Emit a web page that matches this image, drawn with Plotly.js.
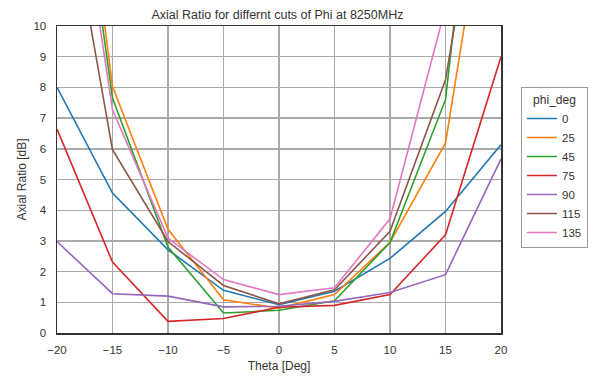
<!DOCTYPE html>
<html>
<head>
<meta charset="utf-8">
<script src="https://cdn.plot.ly/plotly-3.0.1.min.js"></script>
<style>html,body{margin:0;padding:0;background:#fff;}#chart{width:596px;height:376px;}</style>
</head>
<body>
<div id="chart"></div>
<script>
const theta = [-20, -15, -10, -5, 0, 5, 10, 15, 20];
const phiLabels = ["0", "25", "45", "75", "90", "115", "135"];
const phi0   = [8.0, 4.56, 2.71, 1.39, 0.92, 1.36, 2.43, 3.96, 6.13];
const phi25  = [22.3, 8.03, 3.38, 1.08, 0.81, 1.25, 2.95, 6.19, 17.4];
const phi45  = [20.7, 7.65, 2.8, 0.65, 0.74, 1.05, 2.95, 7.6, 23.6];
const phi75  = [6.64, 2.31, 0.38, 0.47, 0.84, 0.9, 1.25, 3.2, 9.0];
const phi90  = [2.98, 1.28, 1.2, 0.85, 0.87, 1.03, 1.32, 1.9, 5.67];
const phi115 = [16.2, 5.97, 2.98, 1.55, 0.95, 1.41, 3.31, 8.25, 19.0];
const phi135 = [19.3, 7.27, 3.09, 1.74, 1.25, 1.47, 3.72, 10.6, 25.0];
const colors = ["#1f77b4", "#ff7f0e", "#2ca02c", "#d62728", "#9467bd", "#8c564b", "#e377c2"];

const series = [phi0, phi25, phi45, phi75, phi90, phi115, phi135];
const traces = series.map((ys, i) => ({
  x: theta, y: ys, type: "scatter", mode: "lines", name: phiLabels[i],
  line: {color: colors[i], width: 1.6}, cliponaxis: true
}));

const font = {family: "Liberation Sans, Arial, sans-serif", size: 11, color: "#333333"};
const layout = {
  width: 596, height: 376,
  margin: {l: 57, r: 95, t: 26, b: 43, pad: 0, autoexpand: false},
  paper_bgcolor: "#ffffff", plot_bgcolor: "#ffffff",
  font: font,
  title: {text: "Axial Ratio for differnt cuts of Phi at 8250MHz", x: 0.4655, xanchor: "center", y: 0.962, yanchor: "middle",
          font: {family: "Liberation Sans, Arial, sans-serif", size: 12.5, color: "#333333"}},
  xaxis: {range: [-20, 20], tickvals: [-20, -15, -10, -5, 0, 5, 10, 15, 20],
          ticktext: ["\u221220", "\u221215", "\u221210", "\u22125", "0", "5", "10", "15", "20"],
          showgrid: true, gridcolor: "#aaaaaa", gridwidth: 1.4, zeroline: false,
          showline: true, linecolor: "#333333", linewidth: 1.5, mirror: true, ticks: "",
          ticklabelstandoff: 6,
          title: {text: "Theta [Deg]", font: {size: 12, color: "#333333"}, standoff: 6},
          tickfont: {size: 11.5, color: "#333333"}},
  yaxis: {range: [0, 10], dtick: 1, tick0: 0,
          showgrid: true, gridcolor: "#aaaaaa", gridwidth: 1.4, zeroline: false,
          showline: true, linecolor: "#333333", linewidth: 1.5, mirror: true, ticks: "",
          ticklabelstandoff: 7,
          title: {text: "Axial Ratio [dB]", font: {size: 12, color: "#333333"}, standoff: 4},
          tickfont: {size: 11.5, color: "#333333"}},
  legend: {x: 1.045, xanchor: "left", y: 0.80, yanchor: "top",
           bordercolor: "#999999", borderwidth: 1, bgcolor: "#ffffff",
           font: {size: 11.5, color: "#333333"},
           title: {text: "phi_deg", side: "top center", font: {size: 12, color: "#333333"}},
           itemwidth: 30, tracegroupgap: 0},
  showlegend: true
};
Plotly.newPlot("chart", traces, layout, {staticPlot: true, displayModeBar: false});
</script>
</body>
</html>
